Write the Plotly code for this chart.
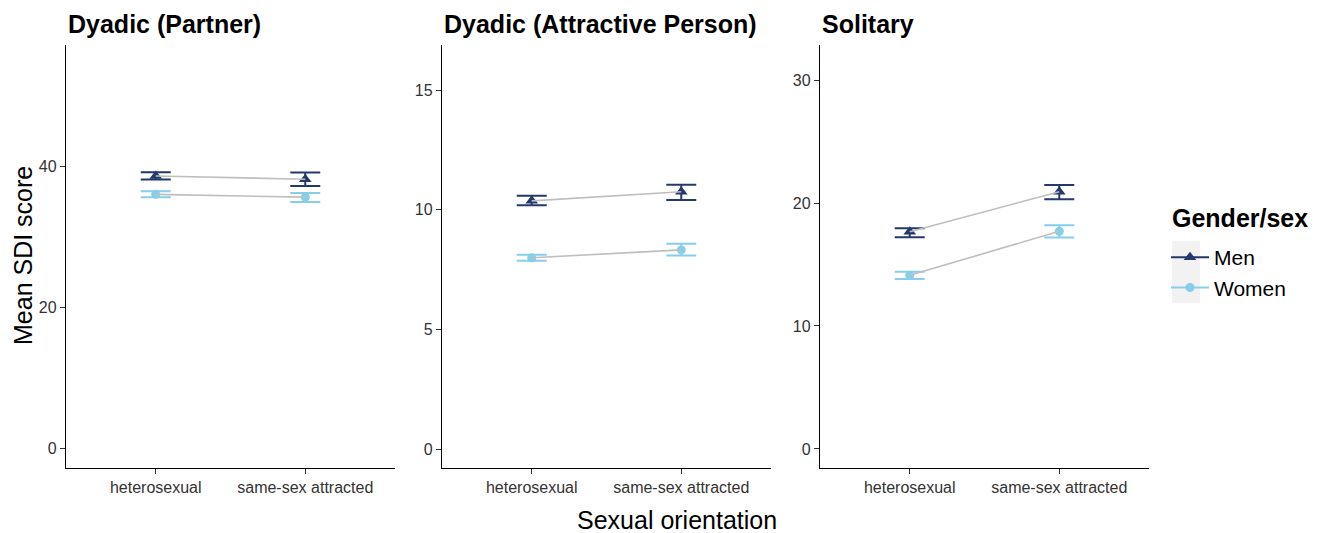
import plotly.graph_objects as go

# ---------------- data ----------------
categories = ["heterosexual", "same-sex attracted"]
panels = ["Dyadic (Partner)", "Dyadic (Attractive Person)", "Solitary"]
genders = ["Men", "Women"]
legend_title = "Gender/sex"

# means [hetero, same-sex] per panel
men_mean = [[38.7, 38.25], [10.37, 10.75], [17.67, 20.92]]
men_low = [[38.2, 37.3], [10.19, 10.41], [17.21, 20.30]]
men_high = [[39.25, 39.2], [10.58, 11.04], [17.94, 21.46]]

women_mean = [[36.1, 35.7], [7.99, 8.32], [14.12, 17.70]]
women_low = [[35.7, 35.0], [7.87, 8.09], [13.82, 17.20]]
women_high = [[36.55, 36.3], [8.12, 8.58], [14.41, 18.19]]

y_ticks = [[0, 20, 40], [0, 5, 10, 15], [0, 10, 20, 30]]
y_ranges = [[-2.75, 57.3], [-0.79, 16.88], [-1.55, 32.85]]

# ---------------- style ----------------
FONT = "Liberation Sans, Arial, sans-serif"
MEN_COLOR = "#23396B"
WOMEN_COLOR = "#87CEEB"
LINE_GREY = "#BEBEBE"

W, H = 1320, 533
ML, MR, MT, MB = 66, 170, 45, 65
PW, PH = W - ML - MR, H - MT - MB


def px_x(p):
    return (p - ML) / PW


def px_y(p):
    return (H - MB - p) / PH


domains = [[px_x(66), px_x(395)], [px_x(442), px_x(771)], [px_x(820), px_x(1149)]]

fig = go.Figure()

series = [
    (genders[0], men_mean, men_low, men_high, MEN_COLOR, "triangle-up", 11),
    (genders[1], women_mean, women_low, women_high, WOMEN_COLOR, "circle", 9),
]

for i in range(3):
    xa = "x" if i == 0 else f"x{i+1}"
    ya = "y" if i == 0 else f"y{i+1}"
    for name, mean, low, high, col, sym, size in series:
        m = mean[i]
        fig.add_trace(go.Scatter(
            x=categories, y=m, xaxis=xa, yaxis=ya, mode="markers",
            marker=dict(symbol=sym, color=col, size=size),
            error_y=dict(type="data", symmetric=False,
                         array=[h - v for h, v in zip(high[i], m)],
                         arrayminus=[v - l for v, l in zip(m, low[i])],
                         color=col, thickness=2, width=15),
            showlegend=False, hoverinfo="skip"))
    for name, mean, low, high, col, sym, size in series:
        fig.add_trace(go.Scatter(
            x=categories, y=mean[i], xaxis=xa, yaxis=ya, mode="lines",
            line=dict(color=LINE_GREY, width=1.6),
            showlegend=False, hoverinfo="skip"))

# legend entries
for name, mean, low, high, col, sym, size in series:
    fig.add_trace(go.Scatter(
        x=[None], y=[None], mode="lines+markers", name=name,
        line=dict(color=col, width=2),
        marker=dict(symbol=sym, color=col, size=size)))

axis_common = dict(showline=True, linecolor="black", linewidth=1.3,
                   ticks="outside", ticklen=5, tickcolor="#333333",
                   tickwidth=1.1, showgrid=False, zeroline=False,
                   tickfont=dict(family=FONT, size=16, color="#333333"))

for i in range(3):
    sx = "" if i == 0 else str(i + 1)
    fig.update_layout(**{
        f"xaxis{sx}": dict(domain=domains[i], anchor=f"y{sx}",
                           type="category", categoryorder="array",
                           categoryarray=categories, range=[-0.6, 1.6],
                           **axis_common),
        f"yaxis{sx}": dict(domain=[0, 1], anchor=f"x{sx}",
                           range=y_ranges[i], tickvals=y_ticks[i],
                           **axis_common),
    })

annotations = []
for i, t in enumerate(panels):
    annotations.append(dict(text=f"<b>{t}</b>", x=domains[i][0], y=px_y(24),
                            xref="paper", yref="paper", xanchor="left",
                            yanchor="middle", showarrow=False,
                            font=dict(family=FONT, size=25, color="black")))
annotations.append(dict(text="Mean SDI score", x=px_x(23), y=px_y(256),
                        xref="paper", yref="paper", xanchor="center",
                        yanchor="middle", textangle=-90, showarrow=False,
                        font=dict(family=FONT, size=25, color="black")))
annotations.append(dict(text="Sexual orientation", x=px_x(677), y=px_y(520),
                        xref="paper", yref="paper", xanchor="center",
                        yanchor="middle", showarrow=False,
                        font=dict(family=FONT, size=25, color="black")))
annotations.append(dict(text=f"<b>{legend_title}</b>", x=px_x(1170),
                        y=px_y(218), xref="paper", yref="paper",
                        xanchor="left", yanchor="middle", showarrow=False,
                        font=dict(family=FONT, size=25, color="black")))

fig.update_layout(
    width=W, height=H,
    margin=dict(l=ML, r=MR, t=MT, b=MB, autoexpand=False),
    paper_bgcolor="white", plot_bgcolor="white",
    annotations=annotations,
    shapes=[dict(type="rect", xref="paper", yref="paper",
                 x0=px_x(1172), x1=px_x(1200), y0=px_y(303), y1=px_y(241),
                 fillcolor="#F2F2F2", line=dict(width=0), layer="above")],
    legend=dict(x=px_x(1166), y=px_y(237), xanchor="left", yanchor="top",
                bgcolor="rgba(0,0,0,0)",
                font=dict(family=FONT, size=21, color="black"),
                itemwidth=38),
)

fig.write_html("out.html", config={"displayModeBar": False},
               post_script="document.body.style.margin='0';"
                           "document.body.style.overflow='hidden';")
